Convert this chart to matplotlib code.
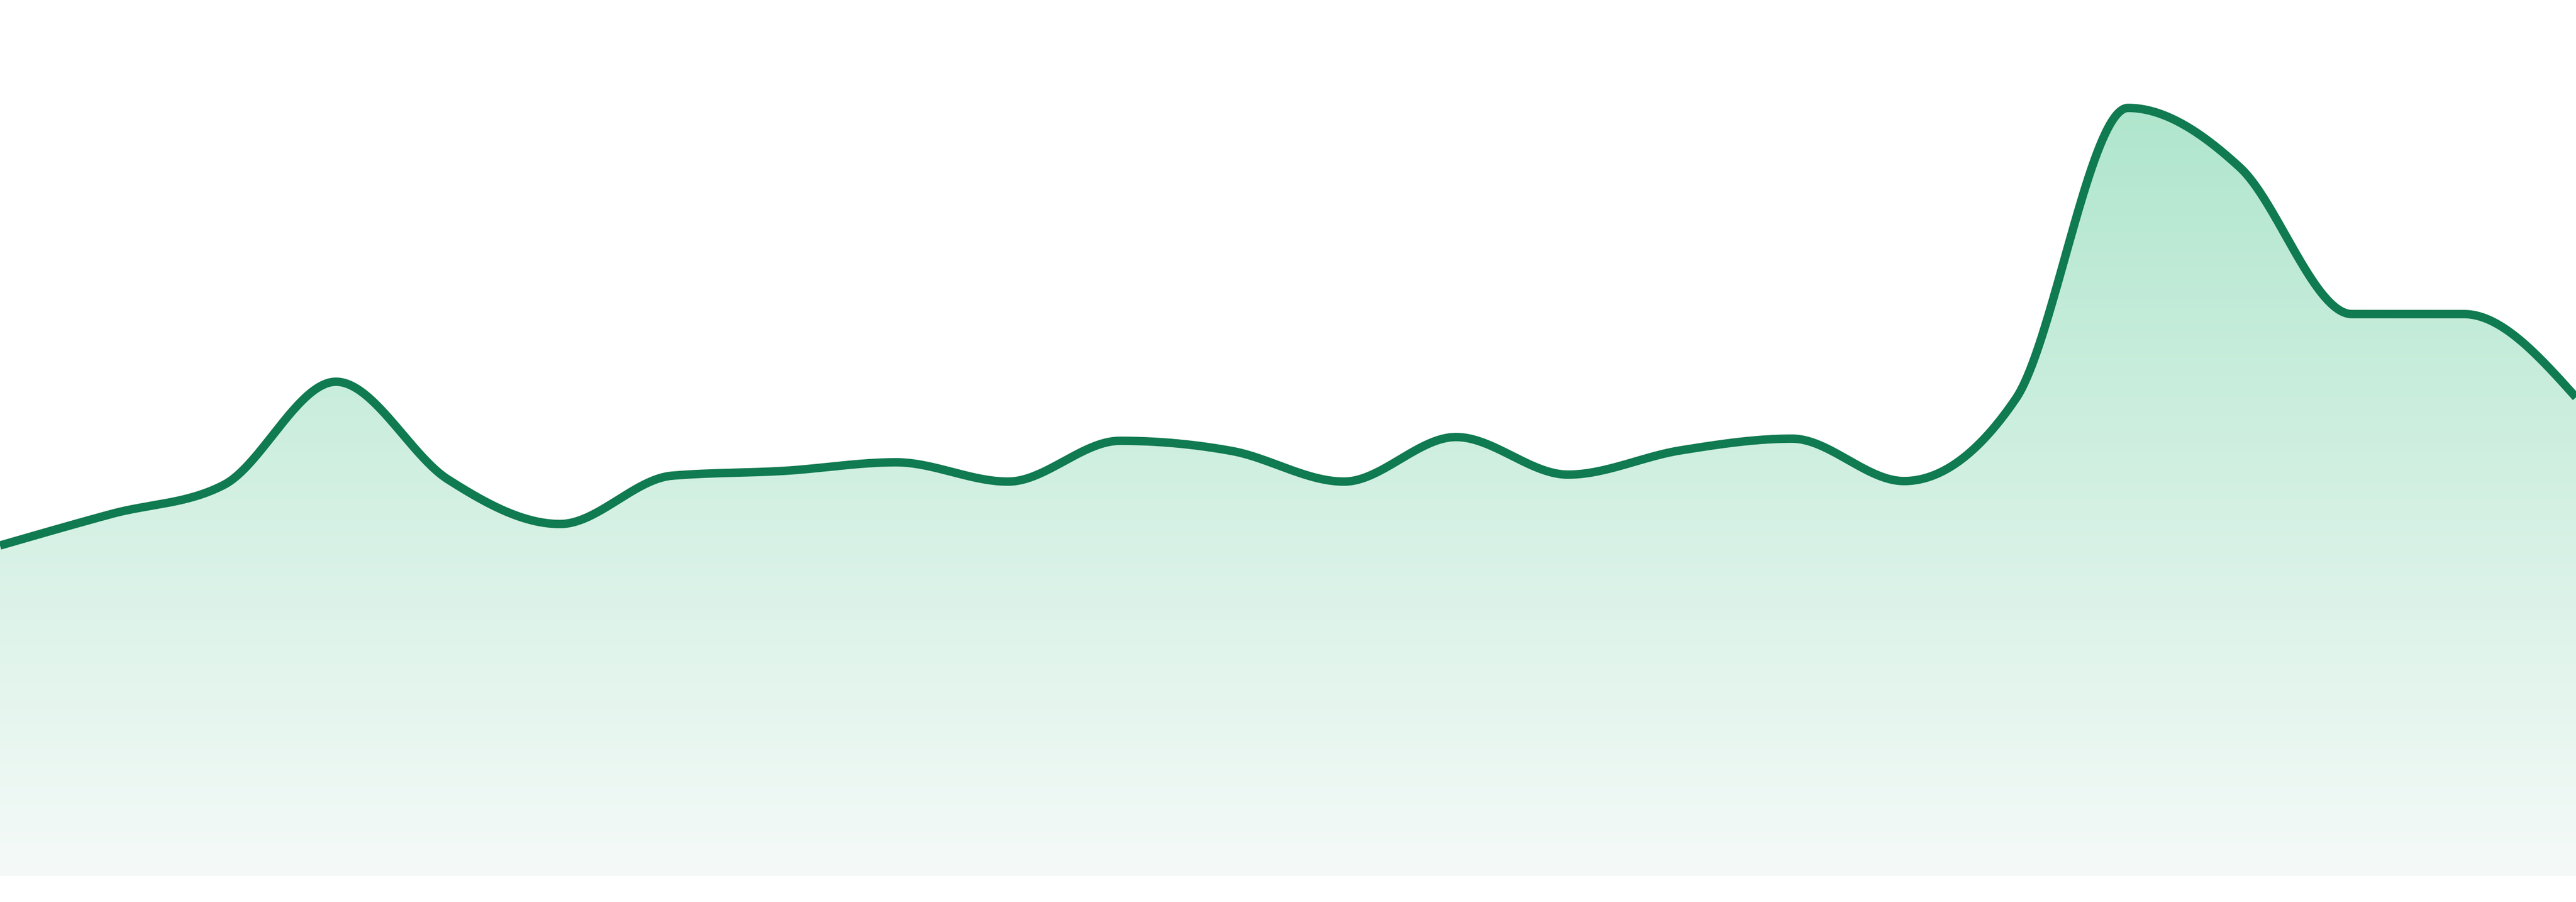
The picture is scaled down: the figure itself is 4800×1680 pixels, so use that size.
"""
Smoothed area chart with a green gradient fill
"""

import numpy as np
import matplotlib
matplotlib.use('Agg')
import matplotlib.pyplot as plt
from matplotlib.patches import Polygon
from matplotlib.colors import to_rgb

# data, one value per period
periods = list(range(24))
values = [616, 675, 729, 921, 739, 656, 746, 755, 771, 735, 811, 792,
          735, 818, 748, 793, 815, 736, 890, 1431, 1320, 1047, 1047, 892]

LINE_COLOR = '#107a50'
FILL_TOP = '#b0e6cd'
FILL_BOTTOM = '#f5faf8'


def monotone_slopes(x, y):
    """
    slopes for a monotone cubic curve (same rule as d3 curveMonotoneX)
    """
    n = len(x)
    h = np.diff(x)
    s = np.diff(y) / h
    t = np.zeros(n)
    for i in range(1, n - 1):
        p = (s[i - 1] * h[i] + s[i] * h[i - 1]) / (h[i - 1] + h[i])
        t[i] = (np.sign(s[i - 1]) + np.sign(s[i])) * min(abs(s[i - 1]), abs(s[i]), 0.5 * abs(p))
    t[0] = (3 * s[0] - t[1]) / 2
    t[-1] = (3 * s[-1] - t[-2]) / 2
    return t


def monotone_curve(x, y, samples=80):
    """
    evaluate the hermite segments on a dense grid
    """
    x = np.asarray(x, dtype=float)
    y = np.asarray(y, dtype=float)
    t = monotone_slopes(x, y)
    xs, ys = [], []
    for i in range(len(x) - 1):
        h = x[i + 1] - x[i]
        u = np.linspace(0, 1, samples, endpoint=(i == len(x) - 2))
        h00 = 2 * u ** 3 - 3 * u ** 2 + 1
        h10 = u ** 3 - 2 * u ** 2 + u
        h01 = -2 * u ** 3 + 3 * u ** 2
        h11 = u ** 3 - u ** 2
        xs.append(x[i] + u * h)
        ys.append(h00 * y[i] + h10 * h * t[i] + h01 * y[i + 1] + h11 * h * t[i + 1])
    return np.concatenate(xs), np.concatenate(ys)


def main():
    fig = plt.figure(figsize=(48, 16.8), dpi=100)
    ax = fig.add_axes([0, 48 / 1680, 1, 1 - 48 / 1680])
    ax.set_xlim(periods[0], periods[-1])
    ax.set_ylim(0, 1632)
    ax.axis('off')

    xs, ys = monotone_curve(periods, values)

    # gradient under the curve
    top = np.array(to_rgb(FILL_TOP))
    bottom = np.array(to_rgb(FILL_BOTTOM))
    rows = np.linspace(0, 1632, 600)
    frac = np.clip(rows / max(values), 0, 1)[:, None]
    grad = (bottom + (top - bottom) * frac)[:, None, :]
    im = ax.imshow(grad, extent=(periods[0], periods[-1], 0, 1632), origin='lower',
                   aspect='auto', interpolation='bilinear', zorder=1)
    verts = np.column_stack([np.r_[xs[0], xs, xs[-1]], np.r_[0, ys, 0]])
    patch = Polygon(verts, closed=True, facecolor='none', edgecolor='none')
    ax.add_patch(patch)
    im.set_clip_path(patch)

    ax.plot(xs, ys, color=LINE_COLOR, linewidth=11.3, solid_joinstyle='round',
            solid_capstyle='butt', zorder=3)

    fig.savefig('out.png', dpi=100)


if __name__ == '__main__':
    main()
